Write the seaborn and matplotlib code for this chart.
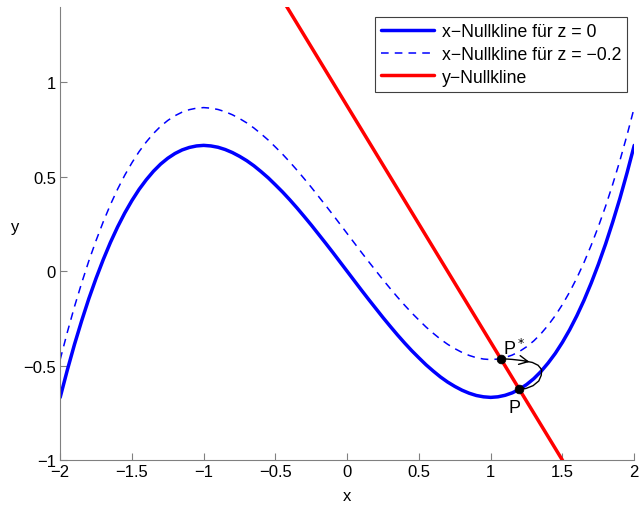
import numpy as np
import matplotlib
matplotlib.use("Agg")
import matplotlib.pyplot as plt
import seaborn as sns

# Stützstellen der Nullklinen
x_curve = [-2.0, -1.95, -1.9, -1.85, -1.8, -1.75, -1.7, -1.65, -1.6, -1.55,
           -1.5, -1.45, -1.4, -1.35, -1.3, -1.25, -1.2, -1.15, -1.1, -1.05,
           -1.0, -0.95, -0.9, -0.85, -0.8, -0.75, -0.7, -0.65, -0.6, -0.55,
           -0.5, -0.45, -0.4, -0.35, -0.3, -0.25, -0.2, -0.15, -0.1, -0.05,
           0.0, 0.05, 0.1, 0.15, 0.2, 0.25, 0.3, 0.35, 0.4, 0.45,
           0.5, 0.55, 0.6, 0.65, 0.7, 0.75, 0.8, 0.85, 0.9, 0.95,
           1.0, 1.05, 1.1, 1.15, 1.2, 1.25, 1.3, 1.35, 1.4, 1.45,
           1.5, 1.55, 1.6, 1.65, 1.7, 1.75, 1.8, 1.85, 1.9, 1.95, 2.0]
# x-Nullkline für z = 0
y_z0 = [-0.667, -0.522, -0.386, -0.261, -0.144, -0.037, 0.062, 0.153, 0.235, 0.309,
        0.375, 0.434, 0.485, 0.530, 0.568, 0.599, 0.624, 0.643, 0.656, 0.664,
        0.667, 0.664, 0.657, 0.645, 0.629, 0.609, 0.586, 0.559, 0.528, 0.495,
        0.458, 0.420, 0.379, 0.336, 0.291, 0.245, 0.197, 0.149, 0.100, 0.050,
        0.0, -0.050, -0.100, -0.149, -0.197, -0.245, -0.291, -0.336, -0.379, -0.420,
        -0.458, -0.495, -0.528, -0.559, -0.586, -0.609, -0.629, -0.645, -0.657, -0.664,
        -0.667, -0.664, -0.656, -0.643, -0.624, -0.599, -0.568, -0.530, -0.485, -0.434,
        -0.375, -0.309, -0.235, -0.153, -0.062, 0.037, 0.144, 0.261, 0.386, 0.522, 0.667]
# x-Nullkline für z = -0.2
y_z02 = [-0.467, -0.322, -0.186, -0.061, 0.056, 0.163, 0.262, 0.353, 0.435, 0.509,
         0.575, 0.634, 0.685, 0.730, 0.768, 0.799, 0.824, 0.843, 0.856, 0.864,
         0.867, 0.864, 0.857, 0.845, 0.829, 0.809, 0.786, 0.759, 0.728, 0.695,
         0.658, 0.620, 0.579, 0.536, 0.491, 0.445, 0.397, 0.349, 0.300, 0.250,
         0.200, 0.150, 0.100, 0.051, 0.003, -0.045, -0.091, -0.136, -0.179, -0.220,
         -0.258, -0.295, -0.328, -0.359, -0.386, -0.409, -0.429, -0.445, -0.457, -0.464,
         -0.467, -0.464, -0.456, -0.443, -0.424, -0.399, -0.368, -0.330, -0.285, -0.234,
         -0.175, -0.109, -0.035, 0.047, 0.138, 0.237, 0.344, 0.461, 0.586, 0.722, 0.867]
# y-Nullkline (Gerade)
x_line = [-0.5, 1.6]
y_line = [1.5, -1.125]
# Trajektorie von P* nach P
x_traj = [1.072, 1.15, 1.22, 1.29, 1.33, 1.355, 1.352, 1.335, 1.295, 1.245, 1.199]
y_traj = [-0.462, -0.466, -0.472, -0.482, -0.497, -0.52, -0.55, -0.58, -0.605, -0.62, -0.624]
# Punkte P* und P
x_pts = [1.072, 1.199]
y_pts = [-0.462, -0.624]

sns.set_style("ticks")
plt.rcParams["font.family"] = ["Liberation Sans", "DejaVu Sans"]
plt.rcParams["axes.unicode_minus"] = True
plt.rcParams["text.color"] = "black"
plt.rcParams["axes.labelcolor"] = "black"

fig = plt.figure(figsize=(6.4, 5.1), dpi=100)
ax = fig.add_axes([0.094, 0.0955, 0.897, 0.889])

sns.lineplot(x=x_curve, y=y_z0, ax=ax, color="#0000ff", lw=2.5, sort=False,
             estimator=None, label="x\u2212Nullkline für z = 0")
sns.lineplot(x=x_curve, y=y_z02, ax=ax, color="#0000ff", lw=1.1, sort=False,
             estimator=None, label="x\u2212Nullkline für z = \u22120.2")
ax.lines[-1].set_dashes([5, 4])
sns.lineplot(x=x_line, y=y_line, ax=ax, color="#ff0000", lw=2.5, sort=False,
             estimator=None, label="y\u2212Nullkline")
sns.lineplot(x=x_traj, y=y_traj, ax=ax, color="black", lw=1.0, sort=False,
             estimator=None)
ax.annotate("", xy=(x_traj[3], y_traj[3]), xytext=(x_traj[2], y_traj[2]),
            arrowprops=dict(arrowstyle="->", color="black", lw=1.0,
                            mutation_scale=16))
sns.scatterplot(x=x_pts, y=y_pts, ax=ax, color="black", s=40, zorder=5,
                edgecolor="black")
ax.text(1.085, -0.405, "P$^*$", fontsize=13, ha="left", va="center")
ax.text(1.165, -0.72, "P", fontsize=13, ha="center", va="center")

ax.set_xlim(-2, 2)
ax.set_ylim(-1, 1.4)
ax.set_xticks([-2, -1.5, -1, -0.5, 0, 0.5, 1, 1.5, 2])
ax.set_yticks([-1, -0.5, 0, 0.5, 1])
ax.set_xticklabels(["\u22122", "\u22121.5", "\u22121", "\u22120.5", "0", "0.5", "1", "1.5", "2"])
ax.set_yticklabels(["\u22121", "\u22120.5", "0", "0.5", "1"])
ax.tick_params(direction="in", length=5, width=0.8, color="#808080",
               labelcolor="black", labelsize=12, pad=3)
for s in ["top", "right"]:
    ax.spines[s].set_visible(False)
for s in ["left", "bottom"]:
    ax.spines[s].set_color("#808080")
    ax.spines[s].set_linewidth(0.8)
ax.set_xlabel("x", fontsize=12, labelpad=6)
ax.set_ylabel("y", fontsize=12, rotation=0, labelpad=6)

leg = ax.legend(loc="upper right", bbox_to_anchor=(1.003, 0.997), fontsize=12.7,
                frameon=True, fancybox=False, handlelength=3.0,
                borderpad=0.35, labelspacing=0.32, handletextpad=0.45)
leg.get_frame().set_edgecolor("#404040")
leg.get_frame().set_linewidth(0.8)
leg.get_frame().set_alpha(1)

fig.savefig("out.png", dpi=100)
